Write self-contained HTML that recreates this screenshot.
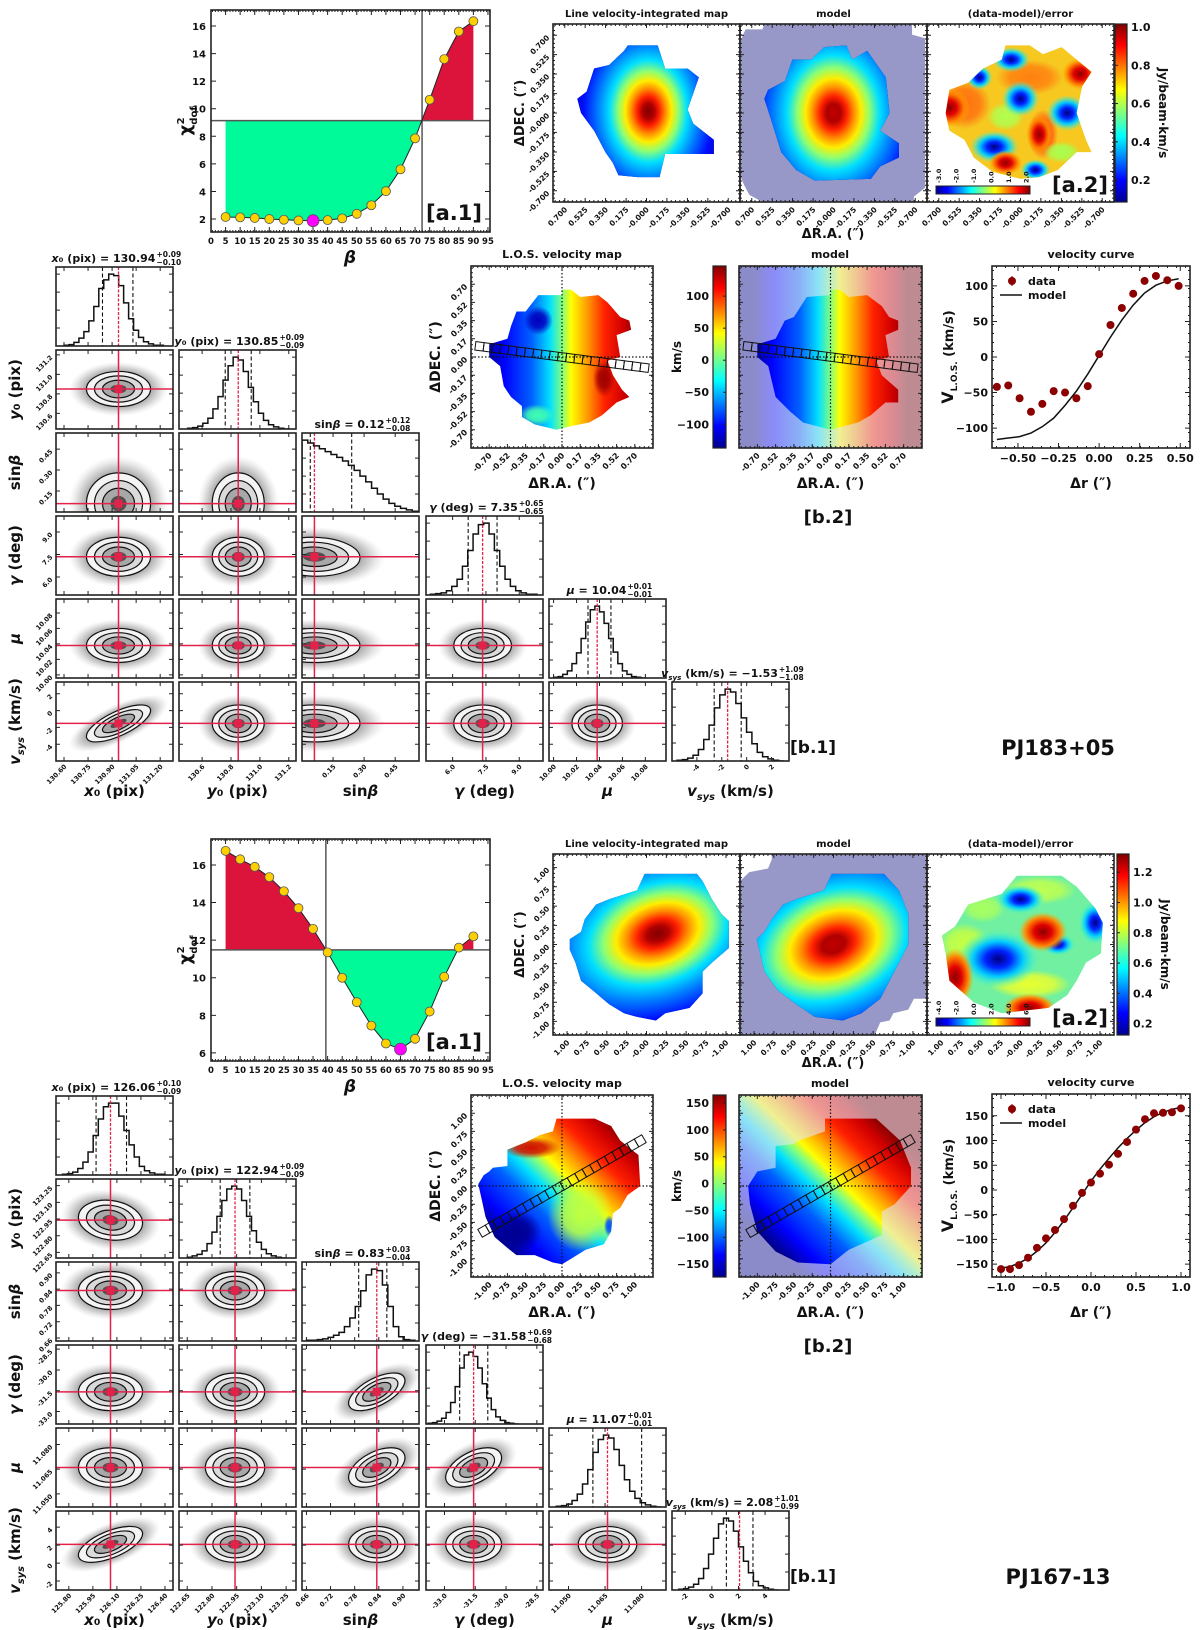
<!DOCTYPE html>
<html><head><meta charset="utf-8"><title>Kinematic fits PJ183+05 / PJ167-13</title>
<style>
html,body{margin:0;padding:0;background:#fff;}
svg{display:block;font-family:"DejaVu Sans","Liberation Sans",sans-serif;font-weight:bold;}
</style></head>
<body>
<svg id="fig" xmlns="http://www.w3.org/2000/svg" width="1200" height="1630" viewBox="0 0 1200 1630">
<defs id="defs"></defs>
<rect x="0" y="0" width="1200" height="1630" fill="#fff"/>
</svg>
<script>
// ---------------- DATA ----------------
const chiBeta = [5,10,15,20,25,30,35,40,45,50,55,60,65,70,75,80,85,90];
const chiA = [2.15,2.12,2.08,2.0,1.95,1.9,1.88,1.92,2.05,2.38,3.0,4.02,5.6,7.85,10.65,13.6,15.6,16.35];
const chiB = [16.75,16.3,15.9,15.35,14.6,13.7,12.6,11.35,10.0,8.7,7.45,6.5,6.2,6.75,8.2,10.05,11.6,12.2];
const chiThrA = 9.14, chiThrB = 11.48;
const chiVlineA = 72.4, chiVlineB = 39.4;
const chiMinA = 35, chiMinB = 65;
const chiYTicksA = [2,4,6,8,10,12,14,16];
const chiYTicksB = [6,8,10,12,14,16];
const chiXTicks = [0,5,10,15,20,25,30,35,40,45,50,55,60,65,70,75,80,85,90,95];

const velXA = [-0.63,-0.56,-0.49,-0.42,-0.35,-0.28,-0.21,-0.14,-0.07,0.0,0.07,0.14,0.21,0.28,0.35,0.42,0.49];
const velYA = [-42,-40,-58,-77,-66,-48,-50,-58,-41,4,45,69,89,107,114,108,100];
const velErrA = [3,3,5,4,3,3,3,3,3,3,3,3,3,3,3,4,5];
const velModelA = [-116,-114,-112,-107,-98,-86,-68,-48,-24,2,28,52,73,90,101,107,110];
const velXB = [-1.0,-0.9,-0.8,-0.7,-0.6,-0.5,-0.4,-0.3,-0.2,-0.1,0.0,0.1,0.2,0.3,0.4,0.5,0.6,0.7,0.8,0.9,1.0];
const velYB = [-160,-160,-152,-137,-117,-98,-81,-59,-32,-6,15,33,51,73,97,122,143,155,156,157,165];
const velErrB = [3,3,3,3,3,3,3,3,3,3,3,3,3,3,3,3,3,3,3,3,6];
const velModelB = [-158,-155,-148,-138,-124,-107,-86,-62,-36,-9,18,42,64,85,104,121,136,148,157,163,167];
const velXTicksA = [-0.5,-0.25,0,0.25,0.5];
const velYTicksA = [-100,-50,0,50,100];
const velXTicksB = [-1.0,-0.5,0,0.5,1.0];
const velYTicksB = [-150,-100,-50,0,50,100,150];

const cbTicksA = [0.2,0.4,0.6,0.8,1.0];
const cbTicksB = [0.2,0.4,0.6,0.8,1.0,1.2];
const losTicksA = [-100,-50,0,50,100];
const losTicksB = [-150,-100,-50,0,50,100,150];

const medA = [130.94,130.85,0.12,7.35,10.04,-1.53];
const plusA = [0.09,0.09,0.12,0.65,0.01,1.09];
const minusA = [0.10,0.09,0.08,0.65,0.01,1.08];
const cloudCenA = [130.94,130.85,0.06,7.35,10.038,-1.53];
const cloudSigA = [0.1,0.09,0.11,0.65,0.011,1.1];
const corrA = [[],[0.0],[0.0,0.0],[0.0,0.0,-0.05],[0.0,0.0,0.0,0.0],[0.7,0.0,0.0,0.0,0.0]];
const rangeLoA = [130.55,130.44,0.0,4.8,9.996,-6.0];
const rangeHiA = [131.28,131.25,0.565,10.07,10.098,3.4];
const histLoA = [130.6,130.5,0.0,5.0,10.0,-5.6];
const histHiA = [131.22,131.2,0.56,9.8,10.08,3.0];
const histA = [
 [1,2,5,11,20,35,55,80,92,100,98,84,60,38,22,12,6,3,1,1],
 [1,2,4,8,15,28,45,68,88,100,96,80,58,38,22,12,6,3,1,0],
 [100,96,92,88,84,80,76,71,65,58,50,42,33,25,18,12,8,5,3,1],
 [1,2,3,6,12,22,40,62,85,98,100,85,62,40,22,12,6,3,1,1],
 [1,2,5,10,20,35,55,78,95,100,92,76,55,36,20,10,5,2,1,0],
 [1,2,4,8,16,30,50,74,92,100,96,80,60,40,24,12,6,3,1,0]];
const ticksA = [
 ['130.60','130.75','130.90','131.05','131.20'],
 ['130.6','130.8','131.0','131.2'],
 ['0.15','0.30','0.45'],
 ['6.0','7.5','9.0'],
 ['10.00','10.02','10.04','10.06','10.08'],
 ['-4','-2','0','2']];

const medB = [126.06,122.94,0.83,-31.58,11.07,2.08];
const plusB = [0.10,0.09,0.03,0.69,0.01,1.01];
const minusB = [0.09,0.09,0.04,0.68,0.01,0.99];
const cloudCenB = [126.06,122.94,0.835,-31.58,11.066,2.08];
const cloudSigB = [0.1,0.09,0.035,0.68,0.006,1.0];
const corrB = [[],[-0.15],[0.0,0.0],[0.0,0.0,0.6],[0.0,0.0,0.5,0.5],[0.6,0.0,0.0,0.0,0.0]];
const rangeLoB = [125.72,122.6,0.649,-33.9,11.042,-3.0];
const rangeHiB = [126.45,123.31,0.94,-28.2,11.09,5.8];
const histLoB = [125.76,122.65,0.66,-33.8,11.045,-2.5];
const histHiB = [126.4,123.25,0.93,-29.4,11.088,5.0];
const histB = [
 [1,2,4,9,18,32,55,78,95,100,100,82,62,42,25,12,6,3,1,1],
 [1,3,5,10,20,36,58,80,96,100,96,80,58,38,22,12,6,3,1,0],
 [1,1,2,3,5,8,12,20,32,48,70,92,100,98,78,48,20,6,2,1],
 [1,2,4,8,16,30,52,78,96,100,94,78,56,36,20,10,5,2,1,0],
 [1,2,4,9,18,32,52,76,94,100,96,80,58,38,22,12,6,3,1,0],
 [1,2,4,8,16,30,50,72,92,100,96,82,60,40,24,12,6,3,1,0]];
const ticksB = [
 ['125.80','125.95','126.10','126.25','126.40'],
 ['122.65','122.80','122.95','123.10','123.25'],
 ['0.66','0.72','0.78','0.84','0.90'],
 ['-33.0','-31.5','-30.0','-28.5'],
 ['11.050','11.065','11.080'],
 ['-2','0','2','4']];

// ---------------- HELPERS ----------------
const NS = 'http://www.w3.org/2000/svg';
const root = document.getElementById('fig');
const defs = document.getElementById('defs');
const RED = '#e3224b';
let uid = 0;
function mk(tag, parent){ const e = document.createElementNS(NS, tag); parent.appendChild(e); return e; }
function at(e, o){ for (const k in o) e.setAttribute(k, o[k]); return e; }
function grp(parent, name){
  const g = mk('g', parent);
  
  
  return g;
}
function txt(parent, x, y, s, size, name, opts){
  const t = mk('text', parent);
  
  
  at(t, {x:x, y:y, 'font-size':size, fill:'#111'});
  if (opts) at(t, opts);
  t.textContent = s;
  return t;
}
function rtxt(parent, x, y, s, size, name, anchor){
  return txt(parent, x, y, s, size, name, {'text-anchor':anchor||'end', transform:'rotate(-45 '+x+' '+y+')'});
}
function axes(x, y, w, h, xlim, ylim, name){
  const g = grp(root, name);
  return {g:g, x:x, y:y, w:w, h:h, xlim:xlim, ylim:ylim,
    sx: v => x + (v - xlim[0]) / (xlim[1] - xlim[0]) * w,
    sy: v => y + h - (v - ylim[0]) / (ylim[1] - ylim[0]) * h};
}
function line(parent, x1, y1, x2, y2, stroke, sw, name, extra){
  const l = mk('line', parent);
  
  
  at(l, {x1:x1, y1:y1, x2:x2, y2:y2, stroke:stroke, 'stroke-width':sw});
  if (extra) at(l, extra);
  return l;
}
function frame(ax, xt, yt, minorX, minorY, tl){
  tl = tl || 4;
  const g = grp(ax.g, 'axes-frame');
  let d = '';
  const xs = xt.map(ax.sx), ys = yt.map(ax.sy);
  xs.forEach(px => { d += 'M'+px+' '+(ax.y+ax.h)+'v-'+tl+'M'+px+' '+ax.y+'v'+tl; });
  ys.forEach(py => { d += 'M'+ax.x+' '+py+'h'+tl+'M'+(ax.x+ax.w)+' '+py+'h-'+tl; });
  if (minorX) for (let px = ax.x + minorX/2; px < ax.x+ax.w; px += minorX) d += 'M'+px+' '+(ax.y+ax.h)+'v-2M'+px+' '+ax.y+'v2';
  if (minorY) for (let py = ax.y + minorY/2; py < ax.y+ax.h; py += minorY) d += 'M'+ax.x+' '+py+'h2M'+(ax.x+ax.w)+' '+py+'h-2';
  const p = mk('path', g);
  
  
  at(p, {d:d, stroke:'#222', 'stroke-width':1, fill:'none'});
  const r = mk('rect', g);
  
  
  at(r, {x:ax.x, y:ax.y, width:ax.w, height:ax.h, fill:'none', stroke:'#222', 'stroke-width':1.6});
}
function clipRect(ax){
  const id = 'c' + (uid++);
  const cp = at(mk('clipPath', defs), {id:id});
  at(mk('rect', cp), {x:ax.x, y:ax.y, width:ax.w, height:ax.h});
  return 'url(#'+id+')';
}
function clipPoly(ax, pts){
  const id = 'c' + (uid++);
  const cp = at(mk('clipPath', defs), {id:id});
  at(mk('polygon', cp), {points: pts.map(p => (ax.x+p[0]*ax.w)+','+(ax.y+p[1]*ax.h)).join(' ')});
  return 'url(#'+id+')';
}
function grad(type, stops, attrs){
  const id = 'g' + (uid++);
  const gr = at(mk(type, defs), Object.assign({id:id}, attrs||{}));
  stops.forEach(s => at(mk('stop', gr), {offset:s[0], 'stop-color':s[1], 'stop-opacity': s.length>2 ? s[2] : 1}));
  return 'url(#'+id+')';
}
const JET = [[0,'#00008f'],[0.12,'#0000ff'],[0.37,'#00ffff'],[0.5,'#80ff80'],[0.63,'#ffff00'],[0.88,'#ff0000'],[1,'#800000']];
function fmt(v, d){ return (v<0?'\u2212':'') + Math.abs(v).toFixed(d); }

// ---------------- CHI2 PANEL ----------------
function chiPanel(dy, chi, thr, vx, ylim, yticks, minBeta, tag){
  const ax = axes(211, 10+dy, 279, 222, [0,95.7], ylim, 'chi2-panel-'+tag);
  const pts = chiBeta.map((b,i) => ax.sx(b)+','+ax.sy(chi[i]));
  const poly = [ax.sx(chiBeta[0])+','+ax.sy(thr)].concat(pts).concat([ax.sx(chiBeta[chiBeta.length-1])+','+ax.sy(thr)]).join(' ');
  const idA = 'c'+(uid++); const ca = at(mk('clipPath', defs), {id:idA});
  at(mk('rect', ca), {x:ax.x, y:ax.y, width:ax.w, height:ax.sy(thr)-ax.y});
  const idB = 'c'+(uid++); const cb = at(mk('clipPath', defs), {id:idB});
  at(mk('rect', cb), {x:ax.x, y:ax.sy(thr), width:ax.w, height:ax.y+ax.h-ax.sy(thr)});
  const fr = mk('polygon', ax.g);
  
  
  at(fr, {points:poly, fill:'#dc143c', 'clip-path':'url(#'+idA+')'});
  const fg = mk('polygon', ax.g);
  
  
  at(fg, {points:poly, fill:'#00fa9a', 'clip-path':'url(#'+idB+')'});
  line(ax.g, ax.x, ax.sy(thr), ax.x+ax.w, ax.sy(thr), '#555', 1.5, 'threshold-line');
  line(ax.g, ax.sx(vx), ax.y, ax.sx(vx), ax.y+ax.h, '#555', 1.5, 'crossing-line');
  const cl = mk('polyline', ax.g);
  
  
  at(cl, {points:pts.join(' '), fill:'none', stroke:'#222', 'stroke-width':1});
  chiBeta.forEach((b,i) => {
    const c = mk('circle', ax.g);
    
    
    at(c, {cx:ax.sx(b), cy:ax.sy(chi[i]), r: b===minBeta ? 6 : 4.5, fill: b===minBeta ? '#ff00ff' : '#ffd000', stroke:'#555', 'stroke-width':0.8});
  });
  frame(ax, chiXTicks, yticks, 2.916, 0, 5);
  chiXTicks.forEach(t => txt(ax.g, ax.sx(t), ax.y+ax.h+12, String(t), 8.5, 'x-tick-label', {'text-anchor':'middle'}));
  yticks.forEach(t => txt(ax.g, ax.x-5, ax.sy(t)+4, String(t), 10, 'y-tick-label', {'text-anchor':'end'}));
  txt(ax.g, 350, ax.y+ax.h+31, '\u03b2', 17, 'x-axis-title', {'text-anchor':'middle', 'font-style':'italic'});
  const yl = txt(ax.g, 0, 0, '\u03c7', 17, 'y-axis-title', {'text-anchor':'middle', transform:'translate(191 '+(ax.y+ax.h/2)+') rotate(-90)'});
  const s1 = mk('tspan', yl); at(s1, {'font-size':10, dy:6}); s1.textContent = 'dof';
  const s2 = mk('tspan', yl); at(s2, {'font-size':10, dx:-18, dy:-13}); s2.textContent = '2';
  txt(ax.g, ax.x+ax.w-8, ax.y+ax.h-12, '[a.1]', 21, 'panel-label-a1', {'text-anchor':'end'});
}
chiPanel(0, chiA, chiThrA, chiVlineA, [1.06,17.16], chiYTicksA, chiMinA, 'pj183');
chiPanel(829, chiB, chiThrB, chiVlineB, [5.57,17.38], chiYTicksB, chiMinB, 'pj167');

// ---------------- FLUX MAPS (a.2) ----------------
function mapAxes(x, y, w, h, name){ return axes(x, y, w, h, [0,1], [0,1], name); }
function ell(parent, cx, cy, rx, ry, rot, fill, name, clip){
  const e = mk('ellipse', parent);
  
  
  at(e, {cx:cx, cy:cy, rx:rx, ry:ry, fill:fill, transform:'rotate('+rot+' '+cx+' '+cy+')'});
  if (clip) e.setAttribute('clip-path', clip);
  return e;
}
const peakStops = [[0,'#800000'],[0.07,'#b00000'],[0.13,'#ff2000'],[0.2,'#ff9000'],[0.27,'#ffee00'],[0.35,'#90ff70'],[0.45,'#00e0ff'],[0.58,'#0080ff'],[0.75,'#0010ff'],[0.9,'#0000c8'],[1,'#00008f']];
const blueBlob = [[0,'#00007f'],[0.3,'#0020ff'],[0.6,'#00c8ff'],[1,'#40ffd0',0]];
const redBlob = [[0,'#8b0000'],[0.35,'#e00000'],[0.7,'#ff8000'],[1,'#ffb000',0]];

function fluxMaps(dy, tag, cfg){
  const names = ['Line velocity-integrated map','model','(data-model)/error'];
  const xs = [553,740,927], w = 187, y = cfg.y, h = cfg.h;
  const axs = xs.map((x,i) => mapAxes(x, y, w, h, ['flux-map','flux-model','flux-residual'][i]+'-'+tag));
  axs.forEach((ax,i) => txt(ax.g, ax.x+w/2, y-7, names[i], 10, 'map-title', {'text-anchor':'middle'}));
  let ax = axs[0];
  let gg = grp(ax.g, 'flux-data-image');
  gg.setAttribute('clip-path', clipPoly(ax, cfg.dataPoly));
  at(mk('rect', gg), {x:ax.x, y:ax.y, width:w, height:h, fill:'#00008f'});
  ell(gg, ax.x+cfg.dataPk[0]*w, ax.y+cfg.dataPk[1]*h, cfg.dataPk[2]*w, cfg.dataPk[3]*h, cfg.dataPk[4], grad('radialGradient', peakStops), 'flux-peak');
  ax = axs[1];
  const bg = mk('polygon', ax.g);
  
  
  at(bg, {points: cfg.modelBg.map(p => (ax.x+p[0]*w)+','+(ax.y+p[1]*h)).join(' '), fill:'#9898c8'});
  gg = grp(ax.g, 'flux-model-image');
  gg.setAttribute('clip-path', clipPoly(ax, cfg.modelPoly));
  at(mk('rect', gg), {x:ax.x, y:ax.y, width:w, height:h, fill:'#00008f'});
  ell(gg, ax.x+cfg.modelPk[0]*w, ax.y+cfg.modelPk[1]*h, cfg.modelPk[2]*w, cfg.modelPk[3]*h, cfg.modelPk[4], grad('radialGradient', peakStops.map((s,i)=> i===0 ? [0,'#c00000'] : s)), 'model-peak');
  ax = axs[2];
  gg = grp(ax.g, 'flux-residual-image');
  gg.setAttribute('clip-path', clipPoly(ax, cfg.resPoly));
  at(mk('rect', gg), {x:ax.x, y:ax.y, width:w, height:h, fill:cfg.resBase});
  cfg.resPatches.forEach(b => ell(gg, ax.x+b[0]*w, ax.y+b[1]*h, b[2]*w, b[3]*h, 0, grad('radialGradient', [[0,b[4]],[0.6,b[4],0.8],[1,b[4],0]]), 'residual-patch'));
  cfg.resBlobs.forEach(b => ell(gg, ax.x+b[0]*w, ax.y+b[1]*h, b[2]*w, b[3]*h, 0, grad('radialGradient', b[4]==='b' ? blueBlob : redBlob), b[4]==='b' ? 'residual-negative-blob' : 'residual-positive-blob'));
  const ib = mk('rect', ax.g);
  
  
  at(ib, {x:936, y:cfg.inset, width:94, height:8, fill:grad('linearGradient', JET), stroke:'#222', 'stroke-width':1});
  cfg.insetLabels.forEach((s,i) => txt(ax.g, 0, 0, s, 6.5, 'residual-colorbar-label', {'text-anchor':'start', transform:'translate('+(941+i*17.5)+' '+(cfg.inset-3)+') rotate(-90)'}));
  txt(ax.g, ax.x+w-6, ax.y+h-10, '[a.2]', 21, 'panel-label-a2', {'text-anchor':'end'});
  const tv = cfg.tickFr;
  axs.forEach((a,i) => {
    frame(a, tv, tv, 4.3, 4.3, 4);
    tv.forEach((t,k) => rtxt(a.g, a.x+t*w+3, y+h+8, cfg.tickLabels[k], 7.5, 'x-tick-label'));
  });
  tv.forEach((t,k) => rtxt(axs[0].g, 550, y+t*h+3, cfg.tickLabels[k], 7.5, 'y-tick-label'));
  txt(axs[1].g, 833, y+h+cfg.xlabOff, '\u0394R.A. (\u2033)', 13, 'x-axis-title', {'text-anchor':'middle'});
  txt(axs[0].g, 0, 0, '\u0394DEC. (\u2033)', 13, 'y-axis-title', {'text-anchor':'middle', transform:'translate(524 '+(y+h/2)+') rotate(-90)'});
  const cbx = cfg.cbx;
  const cba = axes(cbx, y, 12, h, [0,1], cfg.cbLim, 'flux-colorbar-'+tag);
  const cr = mk('rect', cba.g);
  
  
  at(cr, {x:cbx, y:y, width:12, height:h, fill:grad('linearGradient', JET, {x1:0,y1:1,x2:0,y2:0}), stroke:'#222', 'stroke-width':1.2});
  cfg.cbTicks.forEach(t => {
    line(cba.g, cbx, cba.sy(t), cbx+3, cba.sy(t), '#222', 1, 'colorbar-tick');
    txt(cba.g, cbx+16, cba.sy(t)+4, t.toFixed(1), 11, 'colorbar-tick-label');
  });
  txt(cba.g, 0, 0, 'Jy/beam\u00b7km/s', 12, 'colorbar-title', {'text-anchor':'middle', transform:'translate('+(cbx+44)+' '+(y+h/2)+') rotate(90)'});
}
fluxMaps(0, 'pj183', {
  y:24, h:178, cbx:1115, cbLim:[0.085,1.016], cbTicks:cbTicksA, xlabOff:36, inset:186,
  tickFr:[0.063,0.172,0.281,0.391,0.5,0.609,0.719,0.828,0.937],
  tickLabels:['0.700','0.525','0.350','0.175','-0.000','-0.175','-0.350','-0.525','-0.700'],
  dataPoly:[[0.40,0.12],[0.56,0.12],[0.6,0.25],[0.72,0.25],[0.78,0.3],[0.72,0.48],[0.75,0.56],[0.86,0.65],[0.86,0.73],[0.6,0.73],[0.57,0.86],[0.45,0.86],[0.35,0.85],[0.32,0.78],[0.28,0.72],[0.22,0.6],[0.15,0.5],[0.13,0.42],[0.18,0.38],[0.22,0.25],[0.3,0.23],[0.38,0.15]],
  dataPk:[0.51,0.49,0.46,0.64,0],
  modelBg:[[0.03,0.03],[0.12,0.03],[0.13,0.0],[0.92,0.0],[0.92,0.06],[0.99,0.08],[0.99,0.92],[0.93,0.97],[0.93,1],[0.12,1],[0.05,0.96],[0.02,0.9],[0.0,0.85],[0.0,0.1]],
  modelPoly:[[0.13,0.42],[0.15,0.37],[0.24,0.32],[0.28,0.2],[0.38,0.2],[0.45,0.13],[0.57,0.12],[0.6,0.2],[0.68,0.15],[0.78,0.3],[0.8,0.5],[0.75,0.6],[0.85,0.67],[0.85,0.75],[0.75,0.8],[0.7,0.87],[0.4,0.88],[0.3,0.82],[0.22,0.72],[0.17,0.55]],
  modelPk:[0.5,0.5,0.55,0.72,0],
  resPoly:[[0.1,0.5],[0.12,0.37],[0.22,0.33],[0.3,0.25],[0.4,0.2],[0.42,0.12],[0.55,0.12],[0.62,0.17],[0.72,0.13],[0.8,0.2],[0.88,0.27],[0.83,0.35],[0.8,0.5],[0.85,0.65],[0.88,0.72],[0.8,0.72],[0.7,0.82],[0.6,0.86],[0.5,0.87],[0.35,0.83],[0.25,0.75],[0.2,0.65],[0.12,0.6]],
  resBase:'#f6c820',
  resPatches:[[0.2,0.45,0.14,0.14,'#ff7010'],[0.55,0.3,0.18,0.1,'#ff8010'],[0.62,0.62,0.08,0.14,'#ff5010'],[0.42,0.52,0.1,0.08,'#b0ff50'],[0.72,0.72,0.1,0.06,'#a8ff50']],
  resBlobs:[[0.5,0.42,0.1,0.1,'b'],[0.75,0.5,0.11,0.1,'b'],[0.36,0.69,0.13,0.09,'b'],[0.45,0.2,0.1,0.07,'b'],[0.28,0.3,0.07,0.07,'b'],[0.58,0.82,0.08,0.06,'b'],[0.82,0.28,0.1,0.09,'r'],[0.12,0.47,0.11,0.11,'r'],[0.42,0.78,0.09,0.07,'r'],[0.6,0.62,0.07,0.11,'r']],
  insetLabels:['-3.0','-2.0','-1.0','0.0','1.0','2.0']
});
fluxMaps(829, 'pj167', {
  y:854, h:181, cbx:1117, cbLim:[0.125,1.32], cbTicks:cbTicksB, xlabOff:32, inset:1018,
  tickFr:[0.075,0.181,0.288,0.394,0.5,0.606,0.712,0.819,0.925],
  tickLabels:['1.00','0.75','0.50','0.25','-0.00','-0.25','-0.50','-0.75','-1.00'],
  dataPoly:[[0.09,0.47],[0.15,0.43],[0.17,0.36],[0.23,0.28],[0.3,0.25],[0.45,0.2],[0.49,0.11],[0.77,0.11],[0.8,0.15],[0.85,0.25],[0.9,0.33],[0.94,0.37],[0.94,0.52],[0.85,0.6],[0.8,0.65],[0.8,0.77],[0.73,0.85],[0.6,0.88],[0.55,0.92],[0.45,0.9],[0.38,0.88],[0.3,0.83],[0.22,0.76],[0.15,0.7],[0.12,0.6],[0.09,0.53]],
  dataPk:[0.56,0.44,0.85,0.6,-20],
  modelBg:[[0.0,0.15],[0.05,0.1],[0.15,0.08],[0.17,0.03],[0.17,0.0],[1,0],[1,0.8],[0.93,0.8],[0.9,0.86],[0.82,0.88],[0.8,0.92],[0.75,0.93],[0.72,1],[0,1]],
  modelPoly:[[0.09,0.47],[0.13,0.43],[0.17,0.36],[0.23,0.28],[0.3,0.25],[0.45,0.2],[0.49,0.11],[0.77,0.11],[0.85,0.2],[0.9,0.33],[0.9,0.5],[0.85,0.6],[0.8,0.7],[0.75,0.8],[0.65,0.88],[0.55,0.92],[0.4,0.9],[0.3,0.83],[0.2,0.75],[0.13,0.65]],
  modelPk:[0.5,0.5,0.9,0.66,-22],
  resPoly:[[0.08,0.45],[0.15,0.4],[0.22,0.28],[0.4,0.22],[0.48,0.12],[0.72,0.12],[0.8,0.18],[0.9,0.3],[0.94,0.38],[0.93,0.55],[0.85,0.6],[0.8,0.7],[0.75,0.78],[0.65,0.85],[0.4,0.88],[0.25,0.82],[0.12,0.7],[0.1,0.55]],
  resBase:'#70f0a0',
  resPatches:[[0.2,0.5,0.14,0.12,'#c8ff40'],[0.55,0.72,0.22,0.08,'#e8ff30'],[0.3,0.3,0.12,0.08,'#a8ff60'],[0.6,0.2,0.2,0.08,'#c0ff50']],
  resBlobs:[[0.38,0.58,0.22,0.16,'b'],[0.5,0.25,0.13,0.08,'b'],[0.9,0.38,0.09,0.12,'b'],[0.7,0.5,0.09,0.06,'b'],[0.62,0.43,0.13,0.11,'r'],[0.15,0.68,0.1,0.16,'r'],[0.55,0.85,0.14,0.08,'r']],
  insetLabels:['-4.0','-2.0','0.0','2.0','4.0','6.0']
});

// ---------------- VELOCITY MAPS (b.2) ----------------
const losStops = [[0,'#00008f'],[0.12,'#0000ff'],[0.3,'#0060ff'],[0.42,'#00e0ff'],[0.5,'#80ff80'],[0.56,'#ffff00'],[0.66,'#ffa000'],[0.78,'#ff2000'],[0.9,'#d00000'],[1,'#800000']];
function slit(parent, cx, cy, ang, n, s, len){
  const g = grp(parent, 'slit-boxes');
  g.setAttribute('transform', 'translate('+cx+' '+cy+') rotate('+ang+')');
  const step = len / n;
  for (let i = 0; i < n; i++){
    const r = mk('rect', g);
    
    
    at(r, {x:-len/2 + i*step, y:-s/2, width:step, height:s, fill:'none', stroke:'#111', 'stroke-width':1});
  }
}
function losMaps(dy, tag, cfg){
  const y = 266+dy, h = 182, w = 182;
  const dax = mapAxes(471, y, w, h, 'los-velocity-map-'+tag);
  const max = mapAxes(739, y, 183, h, 'los-velocity-model-'+tag);
  txt(dax.g, 471+w/2, y-8, 'L.O.S. velocity map', 11, 'map-title', {'text-anchor':'middle'});
  txt(max.g, 739+91, y-8, 'model', 11, 'map-title', {'text-anchor':'middle'});
  const gA = grad('linearGradient', losStops, cfg.gdir);
  let gg = grp(dax.g, 'los-data-image');
  gg.setAttribute('clip-path', clipPoly(dax, cfg.dataPoly));
  at(mk('rect', gg), {x:dax.x, y:dax.y, width:w, height:h, fill:gA});
  cfg.dataPatches.forEach(p => ell(gg, dax.x+p[0]*w, dax.y+p[1]*h, p[2]*w, p[3]*h, 0, grad('radialGradient', [[0,p[4]],[0.5,p[4],0.85],[1,p[4],0]]), 'velocity-patch'));
  const mb = mk('rect', max.g);
  
  
  at(mb, {x:max.x, y:max.y, width:183, height:h, fill:gA});
  const mw = mk('rect', max.g);
  
  
  at(mw, {x:max.x, y:max.y, width:183, height:h, fill:'#ffffff', opacity:0.55});
  const mt = mk('rect', max.g);
  
  
  at(mt, {x:max.x, y:max.y, width:183, height:h, fill:'#8080c0', opacity:0.12});
  gg = grp(max.g, 'los-model-image');
  gg.setAttribute('clip-path', clipPoly(max, cfg.modelPoly));
  at(mk('rect', gg), {x:max.x, y:max.y, width:183, height:h, fill:gA});
  [dax, max].forEach(a => {
    const cx = a.x + a.w*cfg.zero, cy = a.y + a.h*0.5;
    line(a.g, cx, a.y, cx, a.y+a.h, '#111', 1.2, 'zero-ra-line', {'stroke-dasharray':'1.5,2'});
    line(a.g, a.x, cy, a.x+a.w, cy, '#111', 1.2, 'zero-dec-line', {'stroke-dasharray':'1.5,2'});
    slit(a.g, a.x+a.w*cfg.slit[0], a.y+a.h*cfg.slit[1], cfg.slit[2], cfg.slit[3], cfg.slit[4], a.w*cfg.slit[5]);
    frame(a, tickFr9, tickFr9, 4.5, 4.5, 4);
    tickFr9.forEach((t,k) => rtxt(a.g, a.x+t*a.w+3, y+h+8, cfg.xLabels[k], 8, 'x-tick-label'));
    txt(a.g, a.x+a.w/2, y+h+40, '\u0394R.A. (\u2033)', 14, 'x-axis-title', {'text-anchor':'middle'});
  });
  tickFr9.forEach((t,k) => rtxt(dax.g, 468, y+t*h+3, cfg.yLabels[k], 8, 'y-tick-label'));
  txt(dax.g, 0, 0, '\u0394DEC. (\u2033)', 14, 'y-axis-title', {'text-anchor':'middle', transform:'translate(440 '+(y+h/2)+') rotate(-90)'});
  const cba = axes(713, y, 13, h, [0,1], cfg.cbLim, 'velocity-colorbar-'+tag);
  const cr = mk('rect', cba.g);
  
  
  at(cr, {x:713, y:y, width:13, height:h, fill:grad('linearGradient', JET, {x1:0,y1:1,x2:0,y2:0}), stroke:'#222', 'stroke-width':1.2});
  cfg.cbTicks.forEach(t => {
    line(cba.g, 726, cba.sy(t), 723, cba.sy(t), '#222', 1, 'colorbar-tick');
    txt(cba.g, 709, cba.sy(t)+4, fmt(t,0), 11, 'colorbar-tick-label', {'text-anchor':'end'});
  });
  txt(cba.g, 0, 0, 'km/s', 12, 'colorbar-title', {'text-anchor':'middle', transform:'translate(681 '+(y+h/2)+') rotate(-90)'});
  txt(cba.g, 828, y+257, '[b.2]', 18, 'panel-label-b2', {'text-anchor':'middle'});
}
const tickFr9 = [0.1,0.2,0.3,0.4,0.5,0.6,0.7,0.8,0.9];
losMaps(0, 'pj183', {
  gdir:{x1:0.08,y1:0,x2:0.92,y2:0}, zero:0.5, cbLim:[-137,147], cbTicks:losTicksA,
  slit:[0.5,0.5,7.35,21,8.5,0.96],
  xLabels:['-0.70','-0.52','-0.35','-0.17','0.00','0.17','0.35','0.52','0.70'],
  yLabels:['0.70','0.52','0.35','0.17','0.00','-0.17','-0.35','-0.52','-0.70'],
  dataPoly:[[0.1,0.43],[0.2,0.4],[0.22,0.33],[0.25,0.25],[0.3,0.25],[0.37,0.16],[0.5,0.16],[0.5,0.13],[0.55,0.13],[0.6,0.17],[0.7,0.16],[0.75,0.2],[0.82,0.28],[0.87,0.3],[0.88,0.35],[0.8,0.38],[0.82,0.5],[0.75,0.52],[0.78,0.6],[0.83,0.68],[0.87,0.72],[0.8,0.75],[0.72,0.82],[0.65,0.86],[0.55,0.88],[0.47,0.9],[0.35,0.87],[0.28,0.83],[0.28,0.77],[0.22,0.72],[0.18,0.66],[0.16,0.55],[0.1,0.5]],
  dataPatches:[[0.73,0.62,0.06,0.1,'#a00000'],[0.37,0.3,0.08,0.08,'#0000c0'],[0.36,0.82,0.1,0.06,'#40ffb0']],
  modelPoly:[[0.1,0.43],[0.2,0.4],[0.25,0.3],[0.3,0.28],[0.37,0.17],[0.5,0.16],[0.5,0.13],[0.55,0.13],[0.6,0.17],[0.7,0.16],[0.78,0.22],[0.82,0.28],[0.87,0.3],[0.87,0.35],[0.8,0.38],[0.82,0.5],[0.75,0.52],[0.78,0.6],[0.87,0.68],[0.87,0.75],[0.8,0.75],[0.72,0.82],[0.65,0.86],[0.5,0.9],[0.35,0.86],[0.28,0.8],[0.2,0.72],[0.16,0.55],[0.1,0.5]]
});
losMaps(829, 'pj167', {
  gdir:{x1:0.18,y1:0.82,x2:0.82,y2:0.18}, zero:0.5, cbLim:[-174,165], cbTicks:losTicksB,
  slit:[0.5,0.5,-30,22,9,1.04],
  xLabels:['-1.00','-0.75','-0.50','-0.25','0.00','0.25','0.50','0.75','1.00'],
  yLabels:['1.00','0.75','0.50','0.25','0.00','-0.25','-0.50','-0.75','-1.00'],
  dataPoly:[[0.04,0.49],[0.07,0.44],[0.1,0.42],[0.12,0.4],[0.2,0.39],[0.2,0.3],[0.3,0.26],[0.38,0.22],[0.45,0.2],[0.47,0.13],[0.68,0.13],[0.77,0.17],[0.82,0.25],[0.92,0.33],[0.93,0.5],[0.86,0.55],[0.82,0.62],[0.78,0.65],[0.77,0.75],[0.73,0.82],[0.63,0.85],[0.55,0.9],[0.5,0.93],[0.45,0.92],[0.35,0.88],[0.25,0.88],[0.2,0.84],[0.13,0.78],[0.08,0.67],[0.06,0.58]],
  dataPatches:[[0.33,0.29,0.16,0.06,'#d01000'],[0.6,0.66,0.18,0.2,'#c0ff40'],[0.76,0.72,0.03,0.06,'#0050ff'],[0.25,0.75,0.14,0.12,'#000090']],
  modelPoly:[[0.05,0.5],[0.1,0.42],[0.2,0.4],[0.2,0.28],[0.3,0.27],[0.33,0.25],[0.47,0.2],[0.47,0.13],[0.75,0.13],[0.88,0.25],[0.94,0.4],[0.94,0.5],[0.85,0.6],[0.78,0.64],[0.78,0.77],[0.6,0.85],[0.5,0.93],[0.32,0.92],[0.2,0.86],[0.1,0.75],[0.06,0.6]]
});

// ---------------- VELOCITY CURVES ----------------
function velPanel(top, h, tag, xl, yl, vx, vy, ve, vm, xt, yt, xdec){
  const ax = axes(992, top, 198, h, xl, yl, 'velocity-curve-'+tag);
  txt(ax.g, ax.x+ax.w/2, ax.y-8, 'velocity curve', 11, 'panel-title', {'text-anchor':'middle'});
  const ml = mk('polyline', ax.g);
  
  
  at(ml, {points: vx.map((x,i) => ax.sx(x)+','+ax.sy(vm[i])).join(' '), fill:'none', stroke:'#111', 'stroke-width':1.5});
  vx.forEach((x,i) => {
    line(ax.g, ax.sx(x), ax.sy(vy[i]-ve[i]), ax.sx(x), ax.sy(vy[i]+ve[i]), '#a01010', 1.2, 'error-bar');
    const c = mk('circle', ax.g);
    
    
    at(c, {cx:ax.sx(x), cy:ax.sy(vy[i]), r:4, fill:'#8b0000'});
  });
  frame(ax, xt, yt, 9, 9, 5);
  xt.forEach(t => txt(ax.g, ax.sx(t), ax.y+ax.h+14, fmt(t, xdec), 11, 'x-tick-label', {'text-anchor':'middle'}));
  yt.forEach(t => txt(ax.g, ax.x-4, ax.sy(t)+4, fmt(t,0), 11, 'y-tick-label', {'text-anchor':'end'}));
  txt(ax.g, ax.x+ax.w/2, ax.y+ax.h+40, '\u0394r (\u2033)', 14, 'x-axis-title', {'text-anchor':'middle'});
  const yt2 = txt(ax.g, 0, 0, 'V', 16, 'y-axis-title', {'text-anchor':'middle', transform:'translate(953 '+(ax.y+ax.h/2)+') rotate(-90)'});
  const sb = mk('tspan', yt2); at(sb, {'font-size':9, dy:4}); sb.textContent = 'L.O.S.';
  const sc = mk('tspan', yt2); at(sc, {'font-size':13, dy:-4}); sc.textContent = '  (km/s)';
  const lg = grp(ax.g, 'legend');
  line(lg, 1012, ax.y+10, 1012, ax.y+20, '#a01010', 1.2, 'legend-errorbar');
  const lc = mk('circle', lg);
  
  
  at(lc, {cx:1012, cy:ax.y+15, r:4, fill:'#8b0000'});
  txt(lg, 1028, ax.y+19, 'data', 11, 'legend-data-label');
  line(lg, 1000, ax.y+29, 1022, ax.y+29, '#111', 1.5, 'legend-model-line');
  txt(lg, 1028, ax.y+33, 'model', 11, 'legend-model-label');
}
velPanel(266, 182, 'pj183', [-0.66,0.56], [-128,128], velXA, velYA, velErrA, velModelA, velXTicksA, velYTicksA, 2);
velPanel(1094, 183, 'pj167', [-1.1,1.1], [-176,194], velXB, velYB, velErrB, velModelB, velXTicksB, velYTicksB, 1);

// ---------------- CORNER PLOTS ----------------
const colX = [56,179,302,426,549,672];
const rowY = [267,350,433,516,599,682];
const CW = 117, CH = 79;
function axisLabel(parent, i, x, y, size, name, rot){
  const t = txt(parent, x, y, '', size, name, {'text-anchor':'middle'});
  if (rot) t.setAttribute('transform', 'rotate(-90 '+x+' '+y+')');
  const parts = [
    [['x','italic'],['\u2080 (pix)','normal']],
    [['y','italic'],['\u2080 (pix)','normal']],
    [['sin','normal'],['\u03b2','italic']],
    [['\u03b3','italic'],[' (deg)','normal']],
    [['\u03bc','italic']],
    [['v','italic'],['sys','italic','sub'],[' (km/s)','normal','up']]][i];
  parts.forEach(p => {
    const s = mk('tspan', t);
    s.setAttribute('font-style', p[1]);
    if (p[2] === 'sub') { s.setAttribute('font-size', size*0.65); s.setAttribute('dy', size*0.25); }
    if (p[2] === 'up') s.setAttribute('dy', -size*0.25);
    s.textContent = p[0];
  });
  return t;
}
function corner(dy, tag, med, plus, minus, cen, sig, corr, lo, hi, hlo, hhi, hist, ticks){
  const g = grp(root, 'corner-plot-'+tag);
  const tickVals = ticks.map(a => a.map(Number));
  for (let r = 0; r < 6; r++){
    for (let c = 0; c <= r; c++){
      const x = colX[c], y = rowY[r] + dy;
      if (r === c){
        const ax = axes(x, y, CW, CH, [lo[c], hi[c]], [0, 1.1], 'histogram-'+['x0','y0','sinbeta','gamma','mu','vsys'][c]);
        const hv = hist[c]; const n = hv.length; const mx = Math.max.apply(null, hv);
        const bw = (hhi[c]-hlo[c]) / n;
        let d = 'M'+ax.sx(hlo[c])+' '+ax.sy(0);
        hv.forEach((v,k) => { d += 'L'+ax.sx(hlo[c]+k*bw)+' '+ax.sy(v/mx)+'L'+ax.sx(hlo[c]+(k+1)*bw)+' '+ax.sy(v/mx); });
        d += 'L'+ax.sx(hhi[c])+' '+ax.sy(0);
        const p = mk('path', ax.g);
        
        
        at(p, {d:d, fill:'none', stroke:'#111', 'stroke-width':1.5, 'clip-path':clipRect(ax)});
        line(ax.g, ax.sx(med[c]-minus[c]), y, ax.sx(med[c]-minus[c]), y+CH, '#111', 1.1, 'quantile-16-line', {'stroke-dasharray':'4,2.5'});
        line(ax.g, ax.sx(med[c]+plus[c]), y, ax.sx(med[c]+plus[c]), y+CH, '#111', 1.1, 'quantile-84-line', {'stroke-dasharray':'4,2.5'});
        line(ax.g, ax.sx(cen[c]), y, ax.sx(cen[c]), y+CH, RED, 1.3, 'median-line', {'stroke-dasharray':'3,1.5'});
        frame(ax, tickVals[c], [0.25,0.5,0.75,1.0], 0, 0, 4);
        const tt = axisLabel(ax.g, c, 0, y-5, 11, 'histogram-title', false);
        tt.setAttribute('text-anchor', 'start');
        const val = mk('tspan', tt); val.setAttribute('font-style','normal');
        val.textContent = ' = ' + fmt(med[c], 2);
        const wMain = tt.getComputedTextLength ? tt.getComputedTextLength() : 130;
        const x0 = x + CW/2 - (wMain + 22)/2;
        tt.setAttribute('x', x0);
        txt(ax.g, x0 + wMain + 1, y-10, '+' + plus[c].toFixed(2), 7.5, 'upper-error-label');
        txt(ax.g, x0 + wMain + 1, y-2, '\u2212' + minus[c].toFixed(2), 7.5, 'lower-error-label');
      } else {
        const ax = axes(x, y, CW, CH, [lo[c], hi[c]], [lo[r], hi[r]], 'scatter-'+c+'-'+r);
        const cg = grp(ax.g, 'density-contours');
        cg.setAttribute('clip-path', clipRect(ax));
        const a = sig[c] / (hi[c]-lo[c]) * CW, b = sig[r] / (hi[r]-lo[r]) * CH;
        const rho = corr[r][c] || 0;
        const cxy = -rho*a*b;
        const th = 0.5 * Math.atan2(2*cxy, a*a - b*b) * 180 / Math.PI;
        const m = (a*a+b*b)/2, q = Math.sqrt(((a*a-b*b)/2)*((a*a-b*b)/2) + cxy*cxy);
        const l1 = Math.sqrt(m+q), l2 = Math.sqrt(Math.max(m-q, 0.5));
        const px = ax.sx(cen[c]), py = ax.sy(cen[r]);
        ell(cg, px, py, 3.1*l1, 3.1*l2, th, grad('radialGradient', [[0,'#333',0.9],[0.55,'#555',0.7],[0.8,'#888',0.35],[1,'#bbb',0]]), 'sample-cloud');
        const lv = [[2.0,'#f4f4f4'],[1.5,'#dadada'],[1.0,'#a8a8a8']];
        lv.forEach(L => {
          const e = ell(cg, px, py, L[0]*l1, L[0]*l2, th, L[1], 'contour-level');
          at(e, {stroke:'#111', 'stroke-width':1.2});
        });
        ell(cg, px, py, 0.5*l1, 0.5*l2, th, '#505050', 'density-core');
        line(ax.g, ax.sx(cen[c]), y, ax.sx(cen[c]), y+CH, RED, 1.5, 'median-x-line');
        line(ax.g, x, ax.sy(cen[r]), x+CW, ax.sy(cen[r]), RED, 1.5, 'median-y-line');
        const mkr = mk('rect', ax.g);
        
        
        at(mkr, {x:px-4, y:py-4, width:8, height:8, fill:RED});
        frame(ax, tickVals[c], tickVals[r], 0, 0, 4);
        if (c === 0) tickVals[r].forEach((t,k) => rtxt(ax.g, x-3, ax.sy(t)+3, ticks[r][k], 6.5, 'y-tick-label'));
      }
      if (r === 5) {
        const sxb = v => x + (v - lo[c]) / (hi[c]-lo[c]) * CW;
        tickVals[c].forEach((t,k) => rtxt(g, sxb(t)+3, y+CH+6, ticks[c][k], 6.5, 'x-tick-label'));
      }
    }
  }
  for (let c = 0; c < 6; c++) axisLabel(g, c, colX[c]+CW/2, rowY[5]+dy+CH+35, 15, 'x-axis-title', false);
  for (let r = 1; r < 6; r++) axisLabel(g, r, 20, rowY[r]+dy+CH/2, 15, 'y-axis-title', true);
}
corner(0, 'pj183', medA, plusA, minusA, cloudCenA, cloudSigA, corrA, rangeLoA, rangeHiA, histLoA, histHiA, histA, ticksA);
corner(829, 'pj167', medB, plusB, minusB, cloudCenB, cloudSigB, corrB, rangeLoB, rangeHiB, histLoB, histHiB, histB, ticksB);

txt(root, 813, 753, '[b.1]', 17, 'panel-label-b1', {'text-anchor':'middle'});
txt(root, 1058, 755, 'PJ183+05', 21, 'object-name-pj183', {'text-anchor':'middle'});
txt(root, 813, 1582, '[b.1]', 17, 'panel-label-b1', {'text-anchor':'middle'});
txt(root, 1058, 1584, 'PJ167-13', 21, 'object-name-pj167', {'text-anchor':'middle'});
</script>
</body></html>
